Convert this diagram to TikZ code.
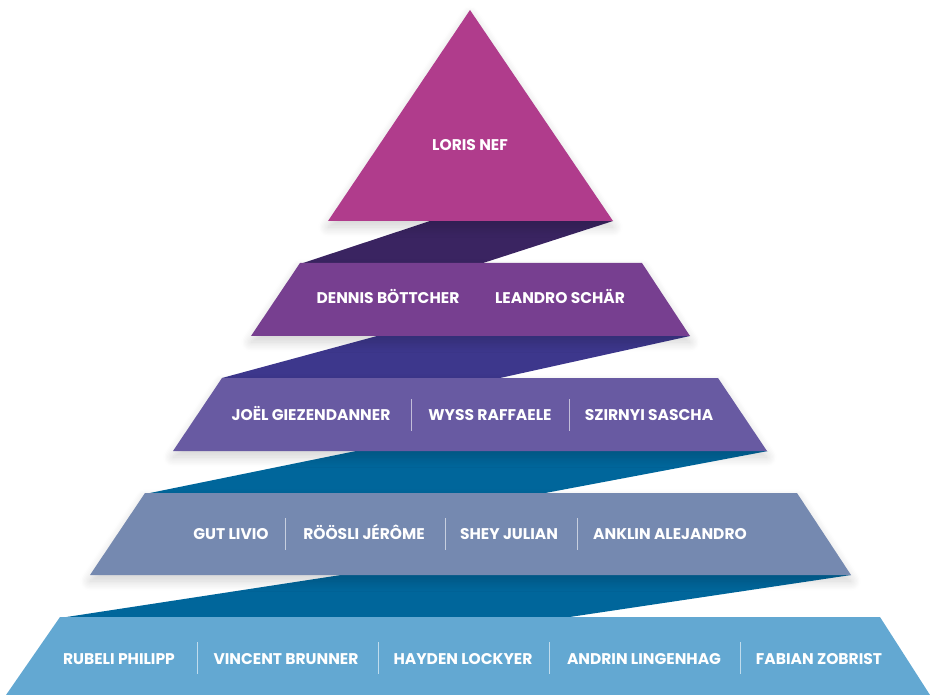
\documentclass[tikz,border=0pt]{standalone}
\usepackage{fontspec}
\setmainfont{Poppins}
\usetikzlibrary{shadows.blur}
\definecolor{cTri}{RGB}{176,60,140}
\definecolor{cB2}{RGB}{119,63,144}
\definecolor{cB3}{RGB}{104,90,162}
\definecolor{cB4}{RGB}{117,137,176}
\definecolor{cB5}{RGB}{99,168,210}
\definecolor{cC1}{RGB}{58,36,97}
\definecolor{cC2}{RGB}{61,55,140}
\definecolor{cC3}{RGB}{0,102,155}
\tikzset{
  band/.style={blur shadow={shadow xshift=0pt,shadow yshift=-6pt,shadow blur steps=8,shadow opacity=18,shadow blur radius=10pt}},
  lbl/.style={text=white,font=\bfseries\fontsize{15.5}{17}\selectfont,inner sep=0pt,anchor=center,text height=11pt,text depth=0pt},
  sep/.style={draw=white,draw opacity=0.6,line width=0.9pt}
}
\begin{document}
\begin{tikzpicture}[x=1pt,y=-1pt]
\useasboundingbox (0,0) rectangle (930,695);
% connectors
\fill[cC1] (430,221) -- (613,221) -- (480,264) -- (300,264) -- cycle;
\fill[cC2] (377,336) -- (690,336) -- (500,378) -- (222,378) -- cycle;
\fill[cC3] (356,451) -- (768,451) -- (540,494) -- (145,494) -- cycle;
\fill[cC3] (341,575) -- (851,575) -- (563,618) -- (60,618) -- cycle;
% bands
\fill[cB5] (60,617) -- (880,617) -- (930,695) -- (6,695) -- cycle;
\fill[cB4,band] (145,493) -- (797,493) -- (851,575) -- (90,575) -- cycle;
\fill[cB3,band] (222,378) -- (718,378) -- (767,451) -- (173,451) -- cycle;
\fill[cB2,band] (300,263) -- (642,263) -- (690,336) -- (251,336) -- cycle;
\fill[cTri,band] (470,10) -- (613,221) -- (328,221) -- cycle;
% labels
\node[lbl] (loris) at (470,145) {LORIS NEF};
\node[lbl] (dennis) at (388,298) {DENNIS BÖTTCHER};
\node[lbl] (leandro) at (560,298) {LEANDRO SCHÄR};
\node[lbl] (joel) at (311,415) {JOËL GIEZENDANNER};
\node[lbl] (wyss) at (490,415) {WYSS RAFFAELE};
\node[lbl] (szirnyi) at (649,415) {SZIRNYI SASCHA};
\node[lbl] (gut) at (231,534) {GUT LIVIO};
\node[lbl] (rooesli) at (364,534) {RÖÖSLI JÉRÔME};
\node[lbl] (shey) at (509,534) {SHEY JULIAN};
\node[lbl] (anklin) at (670,534) {ANKLIN ALEJANDRO};
\node[lbl] (rubeli) at (119,659) {RUBELI PHILIPP};
\node[lbl] (vincent) at (286,659) {VINCENT BRUNNER};
\node[lbl] (hayden) at (463,659) {HAYDEN LOCKYER};
\node[lbl] (andrin) at (644,659) {ANDRIN LINGENHAG};
\node[lbl] (fabian) at (819,659) {FABIAN ZOBRIST};
% separators
\foreach \x in {411,569} \draw[sep] (\x,399) -- (\x,431);
\foreach \x in {285,445,577} \draw[sep] (\x,518) -- (\x,550);
\foreach \x in {197,378,549,740} \draw[sep] (\x,642) -- (\x,674);
\end{tikzpicture}
\end{document}
